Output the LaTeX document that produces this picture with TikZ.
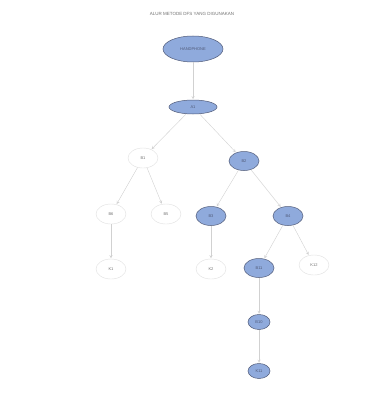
\documentclass[tikz,border=0pt]{standalone}
\usepackage{fontspec}
\setmainfont{Liberation Sans}
\usepackage{tikz}
\usetikzlibrary{arrows}
\usetikzlibrary{shapes.geometric}
\definecolor{nodeblue}{RGB}{143,170,220}
\definecolor{nodeline}{RGB}{80,90,120}
\tikzset{basic/.style={ellipse,inner sep=0pt,font=\fontsize{4}{5}\selectfont,
                       text badly centered}}
\tikzset{visited/.style={basic,draw=nodeline,line width=0.5pt,fill=nodeblue,text=nodeline}}
\tikzset{open/.style={basic,draw=black!12,fill=white,text=black!55}}

\begin{document}
\begin{tikzpicture}[x=1pt,y=-1pt, shorten >=0.5pt,-stealth,draw=black!18,line width=0.4pt]
    \useasboundingbox (0,0) rectangle (375,396);
    \fill[white] (0,0) rectangle (375,396);

    % Title
    \node[text=black!55,font=\fontsize{4.5}{5}\selectfont] (title) at (192,14)
        {ALUR METODE DFS YANG DIGUNAKAN};

    % Draw the nodes on the search path
    \node[visited,minimum width=60,minimum height=26] (H) at (193,49) {HANDPHONE};
    \node[visited,minimum width=48,minimum height=14] (A1) at (193,107) {A1};
    \foreach \name / \x / \y in {B2/244/161,B3/211/216,B4/288/216,B11/259/268}
        \node[visited,minimum width=30,minimum height=19] (\name) at (\x,\y) {\name};
    \foreach \name / \x / \y in {B10/259/322,K11/259/371}
        \node[visited,minimum width=22,minimum height=15] (\name) at (\x,\y) {\name};

    % Draw the nodes that are not expanded
    \foreach \name / \x / \y in {B1/143/158,B6/111/214,B5/166/214,K1/111/269,K2/211/269,K12/314/265}
        \node[open,minimum width=30,minimum height=20] (\name) at (\x,\y) {\name};

    % Connect every parent with its children
    \foreach \source / \dest in {H/A1,A1/B1,A1/B2,B1/B6,B1/B5,B2/B3,B2/B4,
                                 B6/K1,B3/K2,B4/B11,B4/K12,B11/B10,B10/K11}
        \path (\source) edge (\dest);
\end{tikzpicture}
\end{document}
